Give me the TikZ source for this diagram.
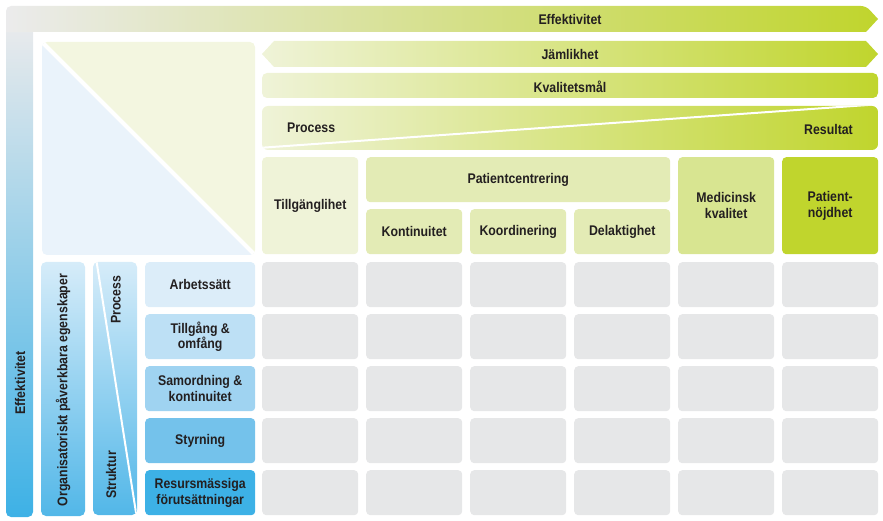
\documentclass[tikz,border=0pt]{standalone}
\usepackage{fontspec}
\newfontfamily\lab{Liberation Sans}[FakeStretch=0.88]
\definecolor{cellgray}{HTML}{E6E7E8}
\definecolor{txt}{HTML}{231F20}
\definecolor{gpale}{HTML}{EFF3D8}
\definecolor{gmid}{HTML}{E3EBB5}
\definecolor{gmed}{HTML}{D8E591}
\definecolor{gstrong}{HTML}{C0D52D}
\definecolor{greytop}{HTML}{EBEBEC}
\definecolor{bluebot}{HTML}{3DB1E6}
\definecolor{trblue}{HTML}{EAF3FB}
\definecolor{trgreen}{HTML}{F3F6E0}
\definecolor{bA}{HTML}{DCEDF9}
\definecolor{bB}{HTML}{BDE0F5}
\definecolor{bC}{HTML}{9FD3F1}
\definecolor{bD}{HTML}{74C2EB}
\definecolor{bE}{HTML}{3DB1E6}
\definecolor{lbtop}{HTML}{D6ECF9}
\definecolor{lbbot}{HTML}{52B7E8}
\tikzset{
  lbl/.style={font=\lab\bfseries\fontsize{14}{15.5}\selectfont, text=txt, align=center, inner sep=0pt},
  box/.style={rounded corners=4pt, inner sep=0pt, anchor=north west, draw=none},
  cell/.style={box, fill=cellgray, minimum width=96pt, minimum height=45pt},
}
\begin{document}
\begin{tikzpicture}[x=1pt,y=-1pt]
\useasboundingbox (0,0) rectangle (883,521);
% Effektivitet L shape
\path[top color=greytop, bottom color=bluebot, rounded corners=5pt]
  (6,20) -- (6,517) -- (33,517) -- (33,20) -- cycle;
\path[left color=greytop, right color=gstrong, rounded corners=5pt]
  (6,32) -- (6,6) -- (866,6) [sharp corners] -- (878,19) -- (866,32) -- cycle;
\node[lbl] (efftop) at (570,19) {Effektivitet};
\node[lbl, rotate=90] (effleft) at (20,383) {Effektivitet};
% triangle panel
\begin{scope}
  \clip[rounded corners=5pt] (42,42) rectangle (255,255);
  \fill[trblue] (42,42) -- (42,255) -- (255,255) -- cycle;
  \fill[trgreen] (42,42) -- (255,42) -- (255,255) -- cycle;
  \draw[white, line width=4pt] (40,40) -- (257,257);
\end{scope}
% Jamlikhet
\path[left color=gpale, right color=gstrong]
  (262,54) -- (274,41) -- (866,41) -- (878,54) -- (866,67) -- (274,67) -- cycle;
\node[lbl] (jam) at (570,54) {Jämlikhet};
% Kvalitetsmal
\path[left color=gpale, right color=gstrong, rounded corners=5pt]
  (262,73) rectangle (878,98);
\node[lbl] (kval) at (570,87) {Kvalitetsmål};
% Process / Resultat band
\begin{scope}
  \clip[rounded corners=6pt] (262,106) rectangle (878,150);
  \path[left color=gpale, right color=gstrong] (262,106) rectangle (878,150);
  \draw[white, line width=2pt] (258,148) -- (882,104);
\end{scope}
\node[lbl, anchor=west] (proc) at (287,128) {Process};
\node[lbl, anchor=east] (res) at (853,129) {Resultat};
% header cells
\node[box, fill=gpale, minimum width=96pt, minimum height=97pt] (tg) at (262,157) {};
\node[lbl] (tgt) at (tg.center) {Tillgänglihet};
\node[box, fill=gmid, minimum width=304pt, minimum height=45pt] (pc) at (366,157) {};
\node[lbl] (pct) at (pc.center) {Patientcentrering};
\node[box, fill=gmid, minimum width=96pt, minimum height=45pt] (ko) at (366,209) {};
\node[lbl] (kot) at (ko.center) {Kontinuitet};
\node[box, fill=gmid, minimum width=96pt, minimum height=45pt] (kd) at (470,209) {};
\node[lbl] (kdt) at (kd.center) {Koordinering};
\node[box, fill=gmid, minimum width=96pt, minimum height=45pt] (de) at (574,209) {};
\node[lbl] (det) at (de.center) {Delaktighet};
\node[box, fill=gmed, minimum width=96pt, minimum height=97pt] (mk) at (678,157) {};
\node[lbl] (mkt) at (mk.center) {Medicinsk\\kvalitet};
\node[box, fill=gstrong, minimum width=96pt, minimum height=97pt] (pn) at (782,157) {};
\node[lbl] (pnt) at (pn.center) {Patient-\\nöjdhet};
% grid
\foreach \i in {0,...,5}{
  \foreach \j in {0,...,4}{
    \node[cell] (c\i\j) at ({262+104*\i},{262+52*\j}) {};
  }
}
% row labels
\foreach \j/\c/\t in {0/bA/{Arbetssätt},1/bB/{Tillgång \&\\omfång},2/bC/{Samordning \&\\kontinuitet},3/bD/{Styrning},4/bE/{Resursmässiga\\förutsättningar}}{
  \node[box, fill=\c, minimum width=110pt, minimum height=45pt] (r\j) at (145,{262+52*\j}) {};
  \node[lbl] (rt\j) at (r\j.center) {\t};
}
% left bars
\path[top color=lbtop, bottom color=lbbot, rounded corners=5pt] (41,262) rectangle (85,516);
\node[lbl, rotate=90] (org) at (63,390) {Organisatoriskt påverkbara egenskaper};
\begin{scope}
  \clip[rounded corners=5pt] (93,262) rectangle (137,515);
  \path[top color=lbtop, bottom color=lbbot] (93,262) rectangle (137,515);
  \draw[white, line width=2pt] (96,258) -- (137,519);
\end{scope}
\node[lbl, rotate=90] (pr) at (116,300) {Process};
\node[lbl, rotate=90] (st) at (111,475) {Struktur};
\end{tikzpicture}
\end{document}
